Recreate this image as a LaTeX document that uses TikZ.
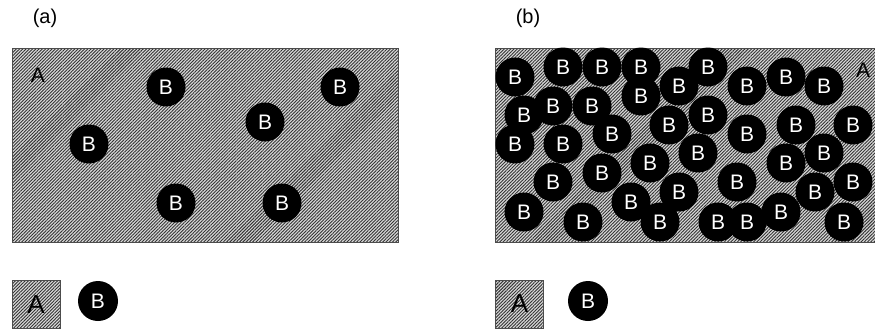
\documentclass[tikz,border=0pt]{standalone}
\usepackage{fontspec}
\setmainfont{Liberation Sans}
\usetikzlibrary{patterns.meta}

\begin{document}
\begin{tikzpicture}[
        x=1pt, y=-1pt,
        font=\fontsize{20}{20}\selectfont,
        hatched/.style={
            preaction={fill=gray!30},
            pattern={Lines[angle=45, distance=2.3pt, line width=0.9pt]},
            pattern color=black!80,
            draw=gray!60!black,
            line width=0.8pt
        },
        grain/.style={
            circle, fill=black, text=white,
            minimum size=39pt, inner sep=0pt,
            font=\fontsize{21}{21}\selectfont
        },
        legA/.style={
            hatched, rectangle, minimum size=48pt, inner sep=0pt,
            font=\fontsize{26}{26}\selectfont
        }
    ]

    \useasboundingbox (0,0) rectangle (875,332);

    % Matriz A com poucas partículas B
    \begin{scope}
        \node (lblA) at (45,18) {(a)};
        \path[hatched] (12,48) rectangle (398,242);
        \node[font=\fontsize{21}{21}\selectfont] (matA) at (38,75) {A};

        \foreach \x/\y [count=\i] in {166/87, 340/87, 265/122, 89/144, 176/203, 282/203}
            \node[grain] (ga\i) at (\x,\y) {B};

        \node[legA] (legAa) at (36,304.5) {A};
        \node[grain, minimum size=40pt] (legBa) at (98,301) {B};
    \end{scope}

    % Matriz A com muitas partículas B
    \begin{scope}
        \node (lblB) at (528,18) {(b)};
        \path[hatched] (495,48) rectangle (885,242);
        \node[font=\fontsize{21}{21}\selectfont] (matB) at (863,70) {A};

        \foreach \x/\y [count=\i] in {
            515/77, 563/67, 602/67, 641/67, 708/67, 679/86, 641/96, 747/86,
            786/77, 824/86, 524/115, 553/106, 592/106, 612/134, 669/125,
            708/115, 747/134, 796/125, 853/125, 515/144, 563/144, 698/153,
            650/163, 824/153, 786/163, 553/182, 602/173, 737/182, 853/182,
            679/192, 815/192, 631/202, 524/212, 583/222, 660/222, 718/222,
            747/222, 781/212, 844/222}
            \node[grain] (gb\i) at (\x,\y) {B};

        \node[legA] (legAb) at (519.5,304) {A};
        \node[grain, minimum size=40pt] (legBb) at (588,301) {B};
    \end{scope}

\end{tikzpicture}
\end{document}
